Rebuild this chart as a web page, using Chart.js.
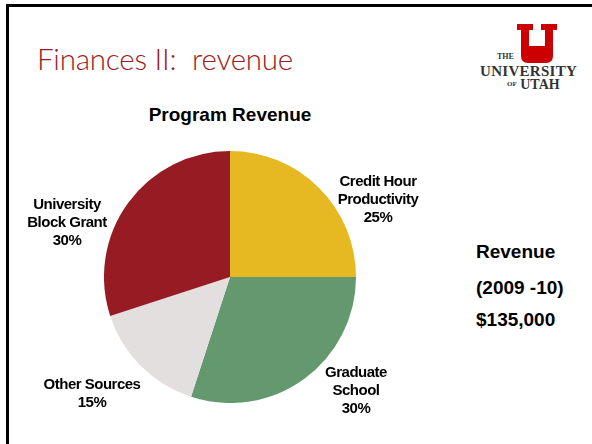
<!DOCTYPE html>
<html>
<head>
<meta charset="utf-8">
<script src="https://cdn.jsdelivr.net/npm/chart.js@4/dist/chart.umd.min.js"></script>
<style>
  html, body { margin: 0; padding: 0; background: #fff; }
  body { width: 592px; height: 444px; position: relative; overflow: hidden; font-family: "Liberation Sans", Arial, sans-serif; }
  #frame { position: absolute; left: 6px; top: 4px; width: 600px; height: 460px; border: 3px solid #000; box-sizing: border-box; }
  #title { position: absolute; left: 37px; top: 41px; font-family: Lato, "Open Sans", sans-serif; font-weight: 300; font-size: 29.5px; color: #9b1b20; white-space: nowrap; letter-spacing: -0.2px; }
  #chartTitle { position: absolute; left: 0; width: 460px; top: 104px; text-align: center; font-weight: bold; font-size: 19px; color: #000; }
  #chartBox { position: absolute; left: 104px; top: 151px; width: 252px; height: 252px; }
  .lbl { position: absolute; text-align: center; font-weight: bold; font-size: 15px; line-height: 18px; color: #000; white-space: nowrap; transform: translateX(-50%); letter-spacing: -0.5px; }
  .side { position: absolute; left: 476px; font-weight: bold; font-size: 19px; color: #000; white-space: nowrap; }
  #logo { position: absolute; left: 476px; top: 22px; width: 110px; height: 72px; }
  #logo .u { position: absolute; left: 41px; top: 2px; }
  #logo .the { position: absolute; left: 21px; top: 30px; font-family: "Liberation Serif", serif; font-weight: bold; font-size: 8px; color: #333; }
  #logo .univ { position: absolute; left: 4px; top: 41px; font-family: "Liberation Serif", serif; font-weight: bold; font-size: 15px; color: #333; letter-spacing: 0.3px; }
  #logo .of { position: absolute; left: 31px; top: 55px; font-family: "Liberation Serif", serif; font-weight: bold; font-size: 14px; color: #333; }
  #logo .of small { font-size: 7px; vertical-align: 3px; }
</style>
</head>
<body>
<div id="frame"></div>
<div id="title">Finances II:&nbsp; revenue</div>
<div id="logo">
  <svg class="u" width="40" height="40" viewBox="0 0 40 40">
    <path d="M0 0 H16 V6 H12 V22 H28 V6 H24 V0 H40 V6 H36 V32 Q36 39 29 39 H11 Q4 39 4 32 V6 H0 Z" fill="#cc0000"/>
  </svg>
  <div class="the">THE</div>
  <div class="univ">UNIVERSITY</div>
  <div class="of"><small>OF</small> UTAH</div>
</div>
<div id="chartTitle">Program Revenue</div>
<div id="chartBox"><canvas id="c" width="252" height="252"></canvas></div>
<div id="labels"></div>
<div class="side" style="top:241px">Revenue</div>
<div class="side" style="top:277px">(2009 -10)</div>
<div class="side" style="top:309px">$135,000</div>
<script>
const categories = ["Credit Hour Productivity", "Graduate School", "Other Sources", "University Block Grant"];
const labelLines = [["Credit Hour", "Productivity"], ["Graduate", "School"], ["Other Sources"], ["University", "Block Grant"]];
const shares = [25, 30, 15, 30];
const colors = ["#e6b821", "#64996f", "#e3dfdf", "#961b22"];
const labelPos = [[378, 172], [356, 363], [92, 375], [67, 195]];

new Chart(document.getElementById('c'), {
  type: 'pie',
  data: {
    labels: categories,
    datasets: [{ data: shares, backgroundColor: colors, borderWidth: 0, hoverOffset: 0 }]
  },
  options: {
    responsive: false,
    animation: false,
    events: [],
    layout: { padding: 0 },
    plugins: { legend: { display: false }, tooltip: { enabled: false }, title: { display: false } }
  }
});

const box = document.getElementById('labels');
categories.forEach((c, i) => {
  const d = document.createElement('div');
  d.className = 'lbl';
  d.style.left = labelPos[i][0] + 'px';
  d.style.top = labelPos[i][1] + 'px';
  d.innerHTML = labelLines[i].concat([shares[i] + '%']).join('<br>');
  box.appendChild(d);
});
</script>
</body>
</html>
